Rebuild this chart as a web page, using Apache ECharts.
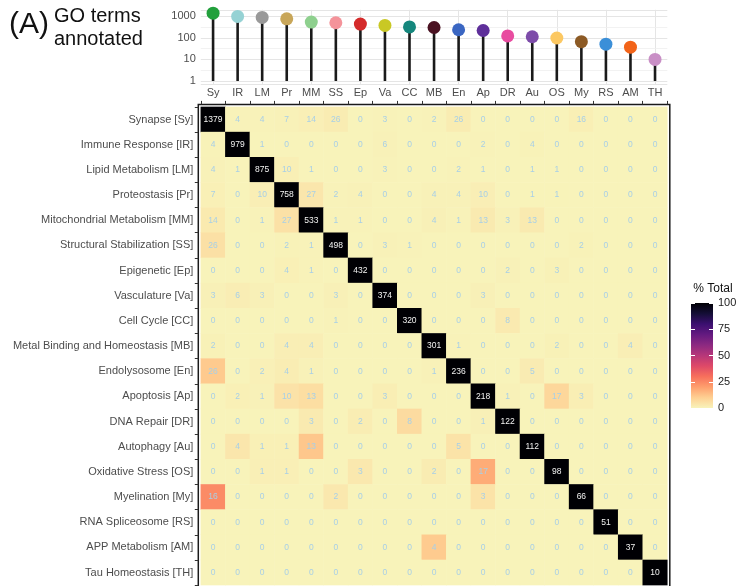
<!DOCTYPE html>
<html>
<head>
<meta charset="utf-8">
<script src="https://cdn.jsdelivr.net/npm/echarts@6/dist/echarts.min.js"></script>
<style>
html,body{margin:0;padding:0;background:#fff;}
#chart{width:739px;height:586px;}
</style>
</head>
<body>
<div id="chart"></div>
<script>
// ---------------- DATA ----------------
const cats = ['Sy','IR','LM','Pr','MM','SS','Ep','Va','CC','MB','En','Ap','DR','Au','OS','My','RS','AM','TH'];
const names = ['Synapse','Immune Response','Lipid Metabolism','Proteostasis','Mitochondrial Metabolism',
  'Structural Stabilization','Epigenetic','Vasculature','Cell Cycle','Metal Binding and Homeostasis',
  'Endolysosome','Apoptosis','DNA Repair','Autophagy','Oxidative Stress','Myelination','RNA Spliceosome',
  'APP Metabolism','Tau Homeostasis'];
const annotated = [1379,979,875,758,533,498,432,374,320,301,236,218,122,112,98,66,51,37,10];
const dotColors = ['#22a03c','#96d2d4','#999999','#c8a659','#8ed08e','#f4939a','#d42a2a','#c9c824',
  '#15877d','#4a1222','#3a66c2','#5e2f9a','#e84ca0','#7d4ca9','#fcc862','#8c5a25','#3b8fd8','#f26419','#c98fc6'];
const counts = [
  [1379,4,4,7,14,26,0,3,0,2,26,0,0,0,0,16,0,0,0],
  [4,979,1,0,0,0,0,6,0,0,0,2,0,4,0,0,0,0,0],
  [4,1,875,10,1,0,0,3,0,0,2,1,0,1,1,0,0,0,0],
  [7,0,10,758,27,2,4,0,0,4,4,10,0,1,1,0,0,0,0],
  [14,0,1,27,533,1,1,0,0,4,1,13,3,13,0,0,0,0,0],
  [26,0,0,2,1,498,0,3,1,0,0,0,0,0,0,2,0,0,0],
  [0,0,0,4,1,0,432,0,0,0,0,0,2,0,3,0,0,0,0],
  [3,6,3,0,0,3,0,374,0,0,0,3,0,0,0,0,0,0,0],
  [0,0,0,0,0,1,0,0,320,0,0,0,8,0,0,0,0,0,0],
  [2,0,0,4,4,0,0,0,0,301,1,0,0,0,2,0,0,4,0],
  [26,0,2,4,1,0,0,0,0,1,236,0,0,5,0,0,0,0,0],
  [0,2,1,10,13,0,0,3,0,0,0,218,1,0,17,3,0,0,0],
  [0,0,0,0,3,0,2,0,8,0,0,1,122,0,0,0,0,0,0],
  [0,4,1,1,13,0,0,0,0,0,5,0,0,112,0,0,0,0,0],
  [0,0,1,1,0,0,3,0,0,2,0,17,0,0,98,0,0,0,0],
  [16,0,0,0,0,2,0,0,0,0,0,3,0,0,0,66,0,0,0],
  [0,0,0,0,0,0,0,0,0,0,0,0,0,0,0,0,51,0,0],
  [0,0,0,0,0,0,0,0,0,4,0,0,0,0,0,0,0,37,0],
  [0,0,0,0,0,0,0,0,0,0,0,0,0,0,0,0,0,0,10]
];
const logMinorBreaks = [Math.sqrt(10), Math.sqrt(1000), Math.sqrt(100000)];
const legendTicks = [0, 25, 50, 75, 100];
// reversed magma palette (0 -> 100)
const palette = ['#f8f3ba','#fecf92','#fe9f6d','#f7705c','#de4968','#b73779','#8c2981','#641a80','#3b0f70','#140e36','#000004'];

// ---------------- BUILD ----------------
const FONT = 'Liberation Sans, Arial, Helvetica, sans-serif';
const yLabels = cats.map((c, i) => names[i] + ' [' + c + ']');
const heatData = [];
counts.forEach((row, i) => {
  row.forEach((v, j) => {
    heatData.push({
      value: [j, i, v / counts[i][i] * 100, v],
      label: { color: i === j ? '#f2f2f2' : '#a8cfe6' }
    });
  });
});

const cellGrid = { left: 200.8, top: 106.9, width: 466.5, height: 478.2 };
const gap = 2.5;

const chart = echarts.init(document.getElementById('chart'), null, { renderer: 'canvas' });
chart.setOption({
  backgroundColor: '#ffffff',
  animation: false,
  textStyle: { fontFamily: FONT },
  title: [
    { text: '(A)', left: 9, top: 9, padding: 0,
      textStyle: { fontSize: 30, fontWeight: 'normal', color: '#111', fontFamily: FONT, lineHeight: 31 } },
    { text: 'GO terms\nannotated', left: 54, top: 5, padding: 0,
      textStyle: { fontSize: 20, fontWeight: 'normal', color: '#111', fontFamily: FONT, lineHeight: 23 } }
  ],
  grid: [
    { // 0: heatmap cells
      left: cellGrid.left, top: cellGrid.top, width: cellGrid.width, height: cellGrid.height,
      outerBoundsMode: 'none', containLabel: false
    },
    { // 1: heatmap frame
      left: cellGrid.left - gap, top: cellGrid.top - gap,
      width: cellGrid.width + 2 * gap, height: cellGrid.height + 2 * gap,
      show: true, borderColor: '#1a1a1a', borderWidth: 1.5, backgroundColor: 'transparent',
      outerBoundsMode: 'none', containLabel: false
    },
    { // 2: lollipop
      left: cellGrid.left, top: 9.8, width: cellGrid.width, height: 74.6,
      outerBoundsMode: 'none', containLabel: false
    },
    { // 3: colour bar
      left: 691, top: 303, width: 22, height: 105,
      outerBoundsMode: 'none', containLabel: false
    }
  ],
  xAxis: [
    { gridIndex: 0, type: 'category', data: cats, position: 'top', offset: gap,
      axisLine: { show: false },
      axisTick: { show: true, length: 3.5, lineStyle: { color: '#333', width: 1 } },
      axisLabel: { show: true, fontSize: 11, color: '#4d4d4d', margin: 5.5, fontFamily: FONT },
      splitLine: { show: false } },
    { gridIndex: 1, type: 'value', min: 0, max: 1, show: false },
    { gridIndex: 2, type: 'category', data: cats,
      axisLine: { show: false }, axisTick: { show: false }, axisLabel: { show: false },
      splitLine: { show: true, alignWithLabel: true, lineStyle: { color: '#e5e5e5', width: 1 } } },
    { gridIndex: 3, type: 'category', data: ['bar'], show: false }
  ],
  yAxis: [
    { gridIndex: 0, type: 'category', data: yLabels, inverse: true, position: 'left', offset: gap,
      axisLine: { show: false },
      axisTick: { show: true, length: 3.5, lineStyle: { color: '#333', width: 1 } },
      axisLabel: { show: true, fontSize: 11, color: '#4d4d4d', margin: 5, fontFamily: FONT },
      splitLine: { show: false } },
    { gridIndex: 1, type: 'value', min: 0, max: 1, show: false },
    { gridIndex: 2, type: 'log', logBase: 10, min: 0.697, max: 1982,
      axisLine: { show: false }, axisTick: { show: false },
      axisLabel: { fontSize: 11, color: '#4d4d4d', margin: 5, fontFamily: FONT,
        showMinLabel: false, showMaxLabel: false, formatter: v => String(Math.round(v)) },
      splitLine: { show: true, lineStyle: { color: '#e5e5e5', width: 1 } } },
    { gridIndex: 3, type: 'value', min: legendTicks[0], max: legendTicks[legendTicks.length - 1],
      interval: 25, position: 'right', z: 10,
      name: '% Total', nameLocation: 'end', nameGap: 8,
      nameTextStyle: { fontSize: 12, color: '#111', fontFamily: FONT },
      axisLine: { show: false },
      axisTick: { show: true, inside: true, length: 4, lineStyle: { color: '#ffffff', width: 1 } },
      axisLabel: { fontSize: 11, color: '#222', margin: 5, fontFamily: FONT },
      splitLine: { show: false } },
    { gridIndex: 3, type: 'value', min: legendTicks[0], max: legendTicks[legendTicks.length - 1],
      interval: 25, position: 'left', z: 10,
      axisLine: { show: false },
      axisTick: { show: true, inside: true, length: 4, lineStyle: { color: '#ffffff', width: 1 } },
      axisLabel: { show: false }, splitLine: { show: false } }
  ],
  visualMap: {
    type: 'continuous', show: false, min: 0, max: 100, dimension: 2, seriesIndex: 0,
    inRange: { color: palette }
  },
  series: [
    { // 0 heatmap
      type: 'heatmap', xAxisIndex: 0, yAxisIndex: 0, data: heatData,
      label: { show: true, fontSize: 8.5, fontFamily: FONT, formatter: p => String(p.value[3]) },
      itemStyle: { borderWidth: 0 },
      emphasis: { disabled: true }
    },
    { // 1 minor grid lines of the lollipop panel
      type: 'line', xAxisIndex: 2, yAxisIndex: 2, data: [], silent: true, z: 1,
      markLine: {
        silent: true, symbol: ['none', 'none'], z: 1,
        label: { show: false },
        lineStyle: { color: '#efefef', width: 0.8, type: 'solid' },
        data: logMinorBreaks.map(v => ({ yAxis: v }))
      }
    },
    { // 2 stems
      type: 'bar', xAxisIndex: 2, yAxisIndex: 2, data: annotated, barWidth: 2.6, z: 2,
      itemStyle: { color: '#1a1a1a' }, silent: true
    },
    { // 3 dots
      type: 'scatter', xAxisIndex: 2, yAxisIndex: 2, z: 3, symbolSize: 13,
      data: annotated.map((v, i) => ({ value: v, itemStyle: { color: dotColors[i], opacity: 1 } })),
      silent: true
    },
    { // 4 colour bar
      type: 'bar', xAxisIndex: 3, yAxisIndex: 3, data: [legendTicks[legendTicks.length - 1]],
      barWidth: '100%', z: 2, silent: true,
      itemStyle: { color: { type: 'linear', x: 0, y: 0, x2: 0, y2: 1,
        colorStops: palette.slice().reverse().map((c, k) => ({ offset: k / (palette.length - 1), color: c })) } }
    }
  ]
});
</script>
</body>
</html>
